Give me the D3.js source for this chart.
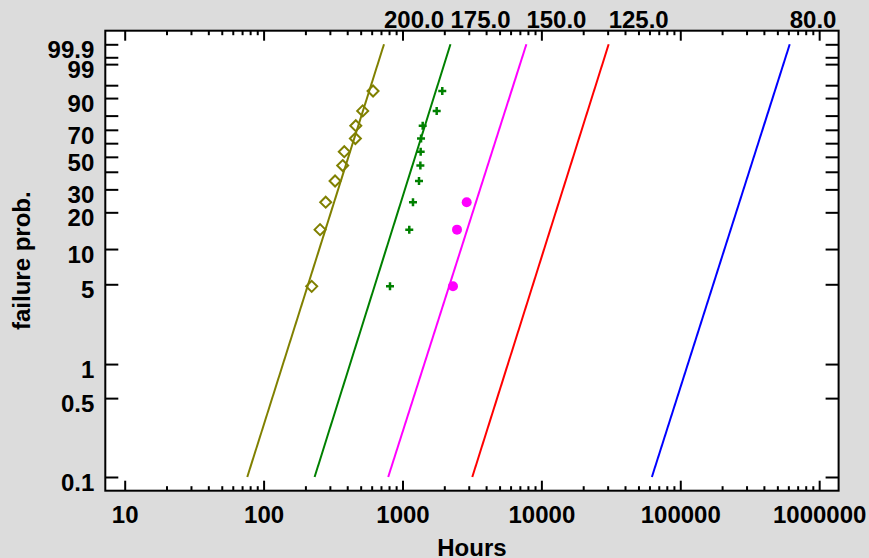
<!DOCTYPE html>
<html>
<head>
<meta charset="utf-8">
<script src="https://cdn.jsdelivr.net/npm/d3@7"></script>
<style>
    body { margin: 0; background: #dcdcdc; }
    text { font-family: "Liberation Sans", Arial, sans-serif; font-weight: bold; font-size: 24px; fill: #000; }
</style>
</head>
<body>
<div id="chart-area"></div>
<script>
// failure probability ticks (percent) and their labels
let probTicks  = [0.1, 0.5, 1, 5, 10, 20, 30, 40, 50, 60, 70, 80, 90, 95, 99, 99.5, 99.9];
let probLabels = ["0.1", "0.5", "1", "5", "10", "20", "30", "", "50", "", "70", "", "90", "", "99", "", "99.9"];

let hourTicks  = [10, 100, 1000, 10000, 100000, 1000000];
let hourLabels = ["10", "100", "1000", "10000", "100000", "1000000"];

// one fitted line per temperature, from 0.1 % to 99.9 %
let temps      = ["200.0", "175.0", "150.0", "125.0", "80.0"];
let lineColors = ["#808000", "#008000", "#ff00ff", "#ff0000", "#0000ff"];
let lineProbs  = [0.1, 99.9];
let lineStart  = [76.3, 233, 789, 3181, 62450];
let lineEnd    = [736, 2216, 7798, 30510, 613800];

// observed failures
let rankProbs = [4.8, 14.5, 24, 34.5, 44, 53.7, 63.5, 73, 83, 93];
let hours200  = [222, 255, 280, 327, 371, 381, 458, 461, 517, 614];
let hours175  = [813, 1119, 1190, 1315, 1345, 1352, 1360, 1398, 1763, 1934];
let hours150  = [2310, 2469, 2899];

let W = 869, H = 558;
let pLeft = 105.3, pRight = 838.6, pTop = 30.7, pBottom = 490.7;

let weib = p => Math.log(-Math.log(1 - p / 100));

let svgCanvas = d3.select("#chart-area")
                    .append("svg")
                    .attr("width", W)
                    .attr("height", H)

svgCanvas.append("rect")
    .attr("width", W).attr("height", H)
    .attr("fill", "#dcdcdc")

svgCanvas.append("rect")
    .attr("x", pLeft).attr("y", pTop)
    .attr("width", pRight - pLeft).attr("height", pBottom - pTop)
    .attr("fill", "white")

let x = d3.scaleLog()
    .domain([7.25, 1.38e6])
    .range([pLeft, pRight])

let wScale = d3.scaleLinear()
    .domain([weib(0.1), weib(99.9)])
    .range([477, 44.3])
let y = p => wScale(weib(p))

let minorTicks = [];
hourTicks.slice(0, -1).forEach(d => {
    for (let k = 2; k <= 9; k++) minorTicks.push(d * k);
});

let axisStyle = g => {
    g.select(".domain").remove();
    g.selectAll("line").attr("stroke", "#000").attr("stroke-width", 2);
}

// bottom axis
svgCanvas.append("g")
    .attr("transform", `translate(0,${pBottom})`)
    .call(d3.axisBottom(x).tickValues(minorTicks).tickSize(-4.5).tickFormat(""))
    .call(axisStyle)

svgCanvas.append("g")
    .attr("transform", `translate(0,${pBottom})`)
    .call(d3.axisBottom(x).tickValues(hourTicks).tickSize(-10).tickPadding(15)
        .tickFormat((d, i) => hourLabels[i]))
    .call(axisStyle)
    .call(g => g.attr("font-size", null).attr("font-family", null))

// top axis
svgCanvas.append("g")
    .attr("transform", `translate(0,${pTop})`)
    .call(d3.axisTop(x).tickValues(minorTicks).tickSize(-4.5).tickFormat(""))
    .call(axisStyle)

svgCanvas.append("g")
    .attr("transform", `translate(0,${pTop})`)
    .call(d3.axisTop(x).tickValues(hourTicks).tickSize(-10).tickFormat(""))
    .call(axisStyle)

// left and right probability axes
let yAxis = d3.axisLeft(wScale)
    .tickValues(probTicks.map(weib))
    .tickSize(-13)
    .tickPadding(11)
    .tickFormat((d, i) => probLabels[i])

svgCanvas.append("g")
    .attr("transform", `translate(${pLeft},0)`)
    .call(yAxis)
    .call(axisStyle)
    .call(g => g.attr("font-size", null).attr("font-family", null))
    .selectAll("text")
    .attr("dy", "0.55em")

svgCanvas.append("g")
    .attr("transform", `translate(${pRight},0)`)
    .call(d3.axisRight(wScale).tickValues(probTicks.map(weib)).tickSize(-13).tickFormat(""))
    .call(axisStyle)

// frame
svgCanvas.append("rect")
    .attr("x", pLeft).attr("y", pTop)
    .attr("width", pRight - pLeft).attr("height", pBottom - pTop)
    .attr("fill", "none")
    .attr("stroke", "#000")
    .attr("stroke-width", 2)

// fitted lines
let lineData = temps.map((t, i) => ({
    temp: t,
    color: lineColors[i],
    pts: [[lineStart[i], lineProbs[0]], [lineEnd[i], lineProbs[1]]]
}));

svgCanvas.selectAll(".fit")
    .data(lineData)
    .enter().append("line")
    .attr("class", "fit")
    .attr("x1", d => x(d.pts[0][0]))
    .attr("y1", d => y(d.pts[0][1]))
    .attr("x2", d => x(d.pts[1][0]))
    .attr("y2", d => y(d.pts[1][1]))
    .attr("stroke", d => d.color)
    .attr("stroke-width", 2)

svgCanvas.selectAll(".temp")
    .data(lineData)
    .enter().append("text")
    .attr("class", "temp")
    .attr("x", d => x(d.pts[1][0]))
    .attr("y", 28)
    .text(d => d.temp)

// 200.0 points: open diamonds
let s = 5.5;
svgCanvas.selectAll(".dia")
    .data(hours200)
    .enter().append("path")
    .attr("class", "dia")
    .attr("d", (d, i) => {
        let cx = x(d), cy = y(rankProbs[i]);
        return `M${cx},${cy - s}L${cx + s},${cy}L${cx},${cy + s}L${cx - s},${cy}Z`;
    })
    .attr("fill", "none")
    .attr("stroke", "#808000")
    .attr("stroke-width", 2)

// 175.0 points: plus signs
let c = 4;
svgCanvas.selectAll(".plus")
    .data(hours175)
    .enter().append("path")
    .attr("class", "plus")
    .attr("d", (d, i) => {
        let cx = x(d), cy = y(rankProbs[i]);
        return `M${cx - c},${cy}H${cx + c}M${cx},${cy - c}V${cy + c}`;
    })
    .attr("stroke", "#008000")
    .attr("stroke-width", 2.5)

// 150.0 points: filled circles
svgCanvas.selectAll(".dot")
    .data(hours150)
    .enter().append("circle")
    .attr("class", "dot")
    .attr("cx", d => x(d))
    .attr("cy", (d, i) => y(rankProbs[i]))
    .attr("r", 5)
    .attr("fill", "#ff00ff")

// axis titles
svgCanvas.append("text")
    .attr("x", (pLeft + pRight) / 2)
    .attr("y", 556)
    .attr("text-anchor", "middle")
    .text("Hours")

svgCanvas.append("text")
    .attr("transform", `translate(30,${(pTop + pBottom) / 2}) rotate(-90)`)
    .attr("text-anchor", "middle")
    .text("failure prob.")
</script>
</body>
</html>
